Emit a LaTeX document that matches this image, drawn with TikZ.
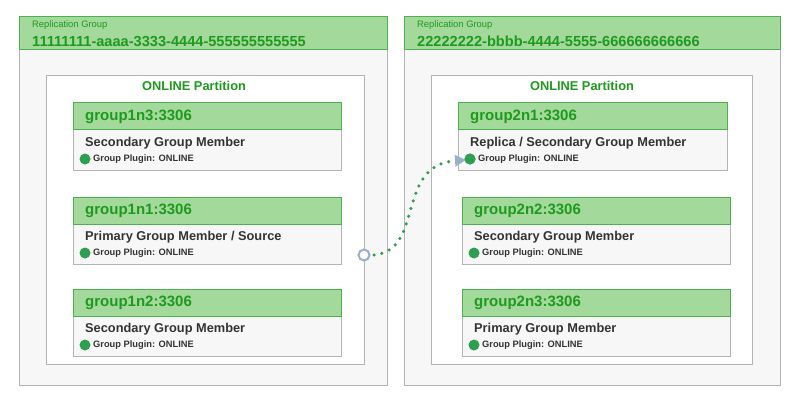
\documentclass[tikz,border=0pt]{standalone}
\usepackage{fontspec}
\setmainfont{Liberation Sans}
\usetikzlibrary{arrows.meta}
\definecolor{hdr}{HTML}{A3D99B}
\definecolor{hdrline}{HTML}{4CB050}
\definecolor{gtxt}{HTML}{1E9A1E}
\definecolor{body}{HTML}{F7F7F7}
\definecolor{frame}{HTML}{B4B4B4}
\definecolor{dot}{HTML}{2E9E50}
\definecolor{conn}{HTML}{9AB0C8}
\tikzset{
 grpbody/.style={draw=frame,fill=body,line width=1pt},
 grphdr/.style={draw=hdrline,fill=hdr,line width=1pt},
 partbox/.style={draw=frame,fill=white,line width=1pt},
 membody/.style={draw=frame,fill=body,line width=1pt},
 memhdr/.style={draw=hdrline,fill=hdr,line width=1pt},
}
\newcommand{\member}[6]{% name x1 y1 x2 title label
 \draw[membody] (#2,#3) rectangle (#4,#3+67);
 \draw[memhdr] (#2,#3) rectangle (#4,#3+27);
 \node[anchor=west,text=gtxt,font=\bfseries\fontsize{15}{17}\selectfont,inner sep=0pt] (#1h) at (#2+12,#3+14) {#1:3306};
 \node[anchor=west,text=black!80,font=\bfseries\fontsize{12.8}{14}\selectfont,inner sep=0pt] (#1t) at (#2+12,#3+40) {#5};
 \fill[dot] (#2+12,#3+56) circle (5.5);
 \node[anchor=west,text=black!80,font=\bfseries\fontsize{9.3}{10}\selectfont,inner sep=0pt] (#1p) at (#2+20,#3+56.5) {Group Plugin: ONLINE};
 \coordinate (#1d) at (#2+12,#3+56);
}
\begin{document}
\begin{tikzpicture}[x=1pt,y=-1pt]
\useasboundingbox[fill=white] (0,0) rectangle (800,401);
% left group
\draw[grpbody] (19,17) rectangle (387,385);
\draw[grphdr] (19,17) rectangle (387,50);
\node[anchor=west,text=gtxt,font=\fontsize{9.4}{10}\selectfont,inner sep=0pt] (g1l) at (32,25) {Replication Group};
\node[anchor=west,text=gtxt,font=\bfseries\fontsize{14.6}{16}\selectfont,inner sep=0pt] (g1n) at (32,41) {11111111-aaaa-3333-4444-555555555555};
\draw[partbox] (46,76) rectangle (364,364);
\node[text=gtxt,font=\bfseries\fontsize{12.8}{14}\selectfont,inner sep=0pt] (p1) at (194,86) {ONLINE Partition};
\member{group1n3}{73}{103}{341}{Secondary Group Member}{}
\member{group1n1}{73}{197}{341}{Primary Group Member / Source}{}
\member{group1n2}{73}{289}{341}{Secondary Group Member}{}
% right group
\draw[grpbody] (404,17) rectangle (780,385);
\draw[grphdr] (404,17) rectangle (780,50);
\node[anchor=west,text=gtxt,font=\fontsize{9.4}{10}\selectfont,inner sep=0pt] (g2l) at (417,25) {Replication Group};
\node[anchor=west,text=gtxt,font=\bfseries\fontsize{14.6}{16}\selectfont,inner sep=0pt] (g2n) at (417,41) {22222222-bbbb-4444-5555-666666666666};
\draw[partbox] (431,76) rectangle (752,364);
\node[text=gtxt,font=\bfseries\fontsize{12.8}{14}\selectfont,inner sep=0pt] (p2) at (582,86) {ONLINE Partition};
\member{group2n1}{458}{103}{727}{Replica / Secondary Group Member}{}
\member{group2n2}{462}{197}{730}{Secondary Group Member}{}
\member{group2n3}{462}{289}{730}{Primary Group Member}{}
% connector
\coordinate (cs) at (364,255);
\draw[conn,line width=2pt,fill=white] (cs) circle (5.5);
\coordinate (ce) at (466,160);
\draw[dot,line width=3.5pt,line cap=round,dash pattern=on 0pt off 8pt,-{Triangle[length=11pt,width=11pt,fill=conn,color=conn]}]
 (374,255) .. controls (425,250) and (395,165) .. (ce);
\fill[dot] (group2n1d) circle (5.5);
\end{tikzpicture}
\end{document}
